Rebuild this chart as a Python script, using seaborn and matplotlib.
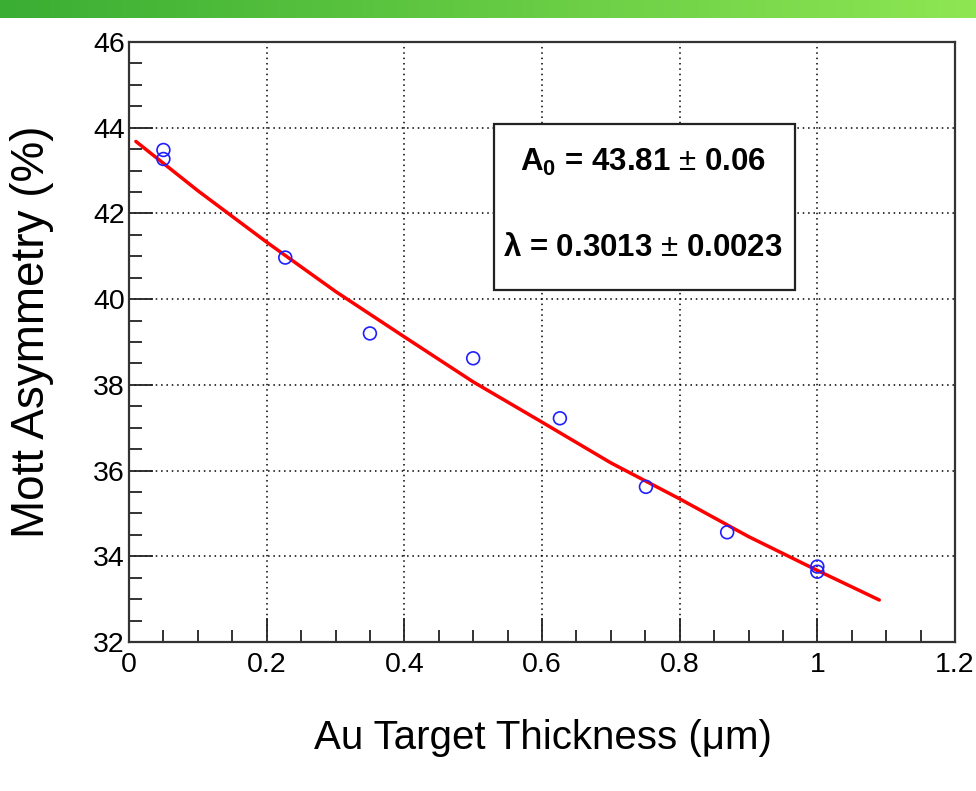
import numpy as np
import matplotlib
matplotlib.use("Agg")
import matplotlib.pyplot as plt
import seaborn as sns
from matplotlib.patches import Rectangle

# measured points (thickness in um, asymmetry in %)
thickness = [0.05, 0.05, 0.227, 0.35, 0.50, 0.626, 0.751, 0.869, 1.0, 1.0]
asymmetry = [43.48, 43.27, 40.97, 39.20, 38.62, 37.22, 35.62, 34.56, 33.76, 33.64]

# fit curve
fit_x = [0.01, 0.1, 0.2, 0.3, 0.4, 0.5, 0.6, 0.7, 0.8, 0.9, 1.0, 1.09]
fit_y = [43.68, 42.53, 41.33, 40.18, 39.12, 38.07, 37.13, 36.18, 35.34, 34.46, 33.67, 32.98]

fit_lines = [r"$\mathbf{A_0}$ = 43.81 $\pm$ 0.06", r"$\mathbf{\lambda}$ = 0.3013 $\pm$ 0.0023"]
x_ticks = [0, 0.2, 0.4, 0.6, 0.8, 1, 1.2]
x_ticklabels = ["0", "0.2", "0.4", "0.6", "0.8", "1", "1.2"]
y_ticks = [32, 34, 36, 38, 40, 42, 44, 46]

sns.set_theme(style="white")
plt.rcParams["font.family"] = ["Liberation Sans", "DejaVu Sans"]
plt.rcParams["mathtext.fontset"] = "custom"
plt.rcParams["mathtext.rm"] = "Liberation Sans"
plt.rcParams["mathtext.bf"] = "Liberation Sans:bold"
for key in ["text.color", "axes.labelcolor", "xtick.color", "ytick.color"]:
    plt.rcParams[key] = "black"

fig = plt.figure(figsize=(9.76, 7.91), dpi=100)

# green header bar
bar = fig.add_axes([0, 1 - 18 / 791, 1, 18 / 791])
grad = np.linspace(0, 1, 256).reshape(1, -1)
cmap = matplotlib.colors.LinearSegmentedColormap.from_list("g", ["#3aae33", "#8ee653"])
bar.imshow(grad, aspect="auto", cmap=cmap)
bar.axis("off")

ax = fig.add_axes([129 / 976, 149 / 791, 826 / 976, 600 / 791])

sns.lineplot(x=fit_x, y=fit_y, color="#ff0000", linewidth=2.5, ax=ax, zorder=3)
sns.scatterplot(x=thickness, y=asymmetry, marker="o", s=85, facecolors="none",
                edgecolors="#1f1fff", linewidths=1.2, ax=ax, zorder=4)

ax.set_xlim(0, 1.2)
ax.set_ylim(32, 46)
ax.set_xticks(x_ticks)
ax.set_xticklabels(x_ticklabels)
ax.set_yticks(y_ticks)
ax.set_xticks(np.arange(0, 1.2001, 0.05), minor=True)
ax.set_yticks(np.arange(32, 46.001, 0.5), minor=True)
ax.tick_params(axis="both", which="major", direction="in", length=17, width=1.3,
               color="#222222", labelsize=20.5, top=False, right=False)
ax.tick_params(axis="both", which="minor", direction="in", length=9, width=1.3,
               color="#222222", top=False, right=False)
ax.tick_params(axis="x", which="both", bottom=True, pad=7)
ax.tick_params(axis="y", which="both", left=True, pad=3)
ax.grid(True, which="major", linestyle=(0, (1, 2.5)), color="black", linewidth=1.1)

for sp in ax.spines.values():
    sp.set_color("#333333")
    sp.set_linewidth(1.6)

ax.set_xlabel("Au Target Thickness (μm)", fontsize=29, va="center")
ax.set_ylabel("Mott Asymmetry (%)", fontsize=33, va="center")
ax.xaxis.set_label_coords(0.501, -0.16)
ax.yaxis.set_label_coords(-0.117, 0.517)

box = Rectangle((0.442, 0.587), 0.364, 0.276, transform=ax.transAxes,
                facecolor="white", edgecolor="#222222", linewidth=1.6, zorder=5)
ax.add_patch(box)
ax.text(0.622, 0.80, fit_lines[0], transform=ax.transAxes, ha="center", va="center",
        fontsize=22.5, fontweight="bold", zorder=6)
ax.text(0.622, 0.657, fit_lines[1], transform=ax.transAxes, ha="center", va="center",
        fontsize=22.5, fontweight="bold", zorder=6)

fig.savefig("out.png", dpi=100)
